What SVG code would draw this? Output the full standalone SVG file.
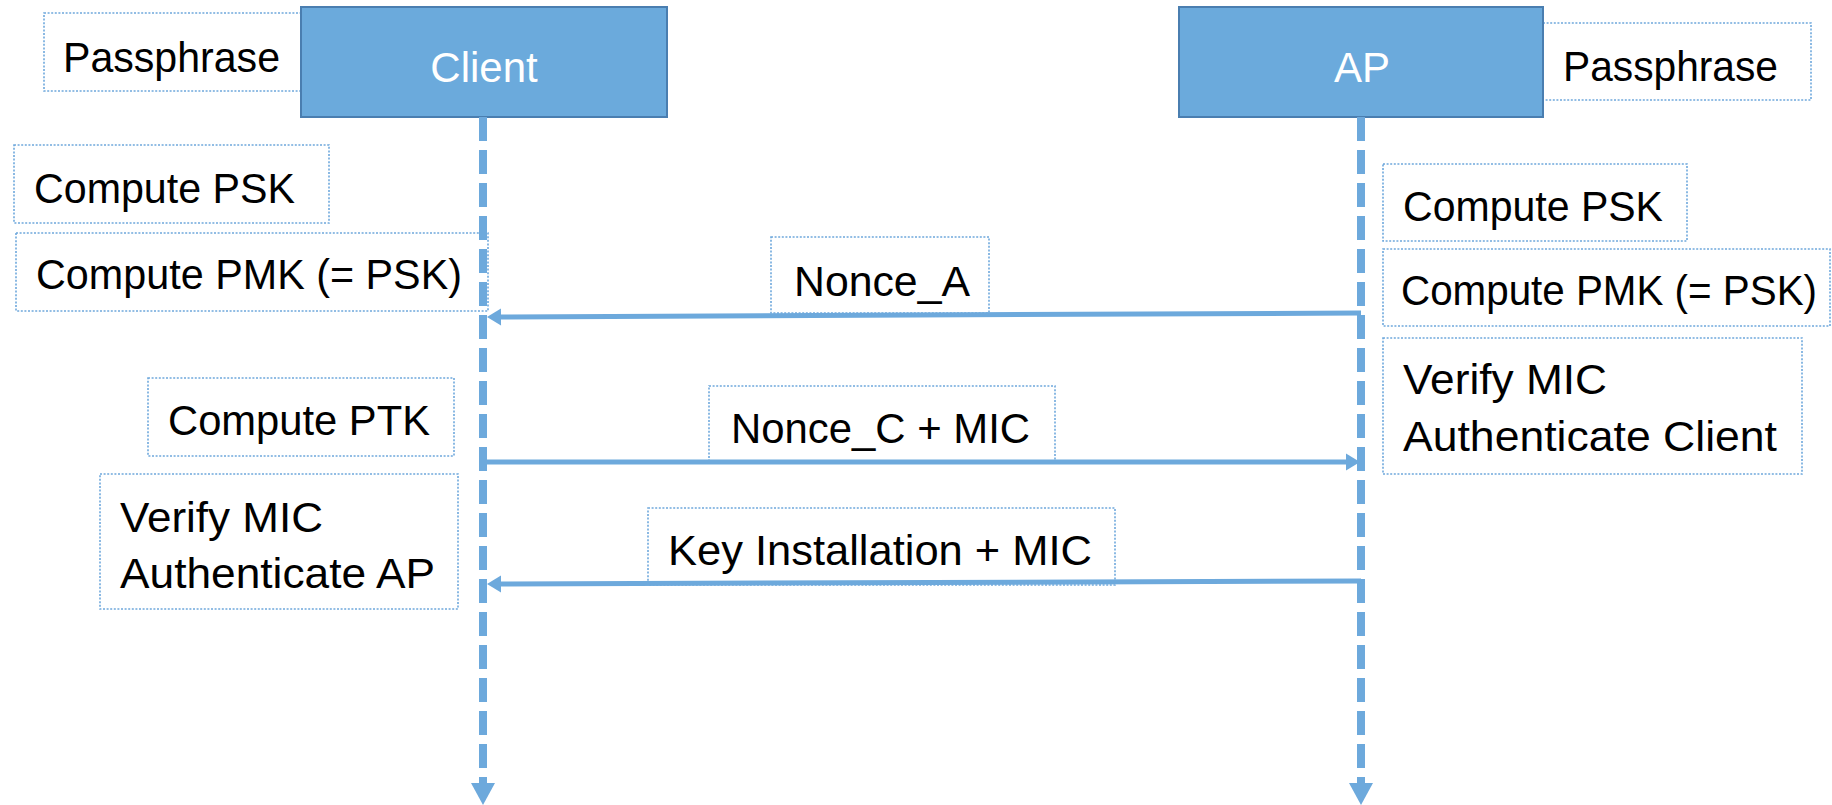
<svg xmlns="http://www.w3.org/2000/svg" width="1832" height="805" viewBox="0 0 1832 805">
<style>
  .bg{fill:#ffffff}
  .actor{fill:#6BAADC;stroke:#4A7EB0;stroke-width:2}
  .actorText{font-family:"Liberation Sans",Arial,sans-serif;font-size:42px;fill:#ffffff;text-anchor:middle}
  .note{fill:none;stroke:#6FA8DC;stroke-width:1.6;stroke-dasharray:2 1.6}
  .t{font-family:"Liberation Sans",Arial,sans-serif;font-size:42px;fill:#000000}
  .life{fill:none;stroke:#6DA9DC;stroke-width:8;stroke-dasharray:24 9}
  .msg{fill:none;stroke:#6DA9DC;stroke-width:5}
</style>
<defs>
  <marker id="lifeHead" markerUnits="userSpaceOnUse" markerWidth="30" markerHeight="30" refX="0" refY="0" orient="auto" overflow="visible">
    <path d="M0,-12 L22,0 L0,12 Z" fill="#6DA9DC"/>
  </marker>
  <marker id="msgHead" markerUnits="userSpaceOnUse" markerWidth="30" markerHeight="30" refX="0" refY="0" orient="auto" overflow="visible">
    <path d="M0,-8.5 L14,0 L0,8.5 Z" fill="#6DA9DC"/>
  </marker>
</defs>
<rect class="bg" x="0" y="0" width="1832" height="805"/>

<g id="passphrase-client">
  <rect class="note" x="44" y="13" width="257" height="78"/>
  <text class="t" x="63" y="72" textLength="217" lengthAdjust="spacingAndGlyphs">Passphrase</text>
</g>
<g id="passphrase-ap">
  <rect class="note" x="1543" y="23" width="268" height="77"/>
  <text class="t" x="1563" y="81" textLength="215" lengthAdjust="spacingAndGlyphs">Passphrase</text>
</g>

<g id="client">
  <rect class="actor" x="301" y="7" width="366" height="110"/>
  <text class="actorText" x="484" y="82">Client</text>
</g>
<g id="ap">
  <rect class="actor" x="1179" y="7" width="364" height="110"/>
  <text class="actorText" x="1362" y="82">AP</text>
</g>

<g id="client-compute-psk">
  <rect class="note" x="14" y="145" width="315" height="78"/>
  <text class="t" x="34" y="203" textLength="261" lengthAdjust="spacingAndGlyphs">Compute PSK</text>
</g>
<g id="client-compute-pmk">
  <rect class="note" x="16" y="233" width="472" height="78"/>
  <text class="t" x="36" y="289" textLength="426" lengthAdjust="spacingAndGlyphs">Compute PMK (= PSK)</text>
</g>
<g id="client-compute-ptk">
  <rect class="note" x="148" y="378" width="306" height="78"/>
  <text class="t" x="168" y="435" textLength="262" lengthAdjust="spacingAndGlyphs">Compute PTK</text>
</g>
<g id="client-verify">
  <rect class="note" x="100" y="474" width="358" height="135"/>
  <text class="t" x="120" y="532" textLength="203" lengthAdjust="spacingAndGlyphs">Verify MIC</text>
  <text class="t" x="120" y="588" textLength="315" lengthAdjust="spacingAndGlyphs">Authenticate AP</text>
</g>

<g id="ap-compute-psk">
  <rect class="note" x="1383" y="164" width="304" height="77"/>
  <text class="t" x="1403" y="221" textLength="260" lengthAdjust="spacingAndGlyphs">Compute PSK</text>
</g>
<g id="ap-compute-pmk">
  <rect class="note" x="1383" y="249" width="447" height="77"/>
  <text class="t" x="1401" y="305" textLength="416" lengthAdjust="spacingAndGlyphs">Compute PMK (= PSK)</text>
</g>
<g id="ap-verify">
  <rect class="note" x="1383" y="338" width="419" height="136"/>
  <text class="t" x="1403" y="394" textLength="204" lengthAdjust="spacingAndGlyphs">Verify MIC</text>
  <text class="t" x="1403" y="451" textLength="374" lengthAdjust="spacingAndGlyphs">Authenticate Client</text>
</g>

<g id="label-nonce-a">
  <rect class="note" x="771" y="237" width="218" height="76"/>
  <text class="t" x="794" y="296" textLength="176" lengthAdjust="spacingAndGlyphs">Nonce_A</text>
</g>
<g id="label-nonce-c">
  <rect class="note" x="709" y="386" width="346" height="77"/>
  <text class="t" x="731" y="443" textLength="299" lengthAdjust="spacingAndGlyphs">Nonce_C + MIC</text>
</g>
<g id="label-key-install">
  <rect class="note" x="648" y="508" width="467" height="77"/>
  <text class="t" x="668" y="565" textLength="424" lengthAdjust="spacingAndGlyphs">Key Installation + MIC</text>
</g>

<g id="connectors">
  <line class="life" x1="483" y1="117" x2="483" y2="783" marker-end="url(#lifeHead)"/>
  <line class="life" x1="1361" y1="117" x2="1361" y2="783" marker-end="url(#lifeHead)"/>
  <line class="msg" x1="1361" y1="313" x2="501" y2="317" marker-end="url(#msgHead)"/>
  <line class="msg" x1="483" y1="462" x2="1346" y2="462" marker-end="url(#msgHead)"/>
  <line class="msg" x1="1361" y1="581" x2="501" y2="584" marker-end="url(#msgHead)"/>
</g>
</svg>
